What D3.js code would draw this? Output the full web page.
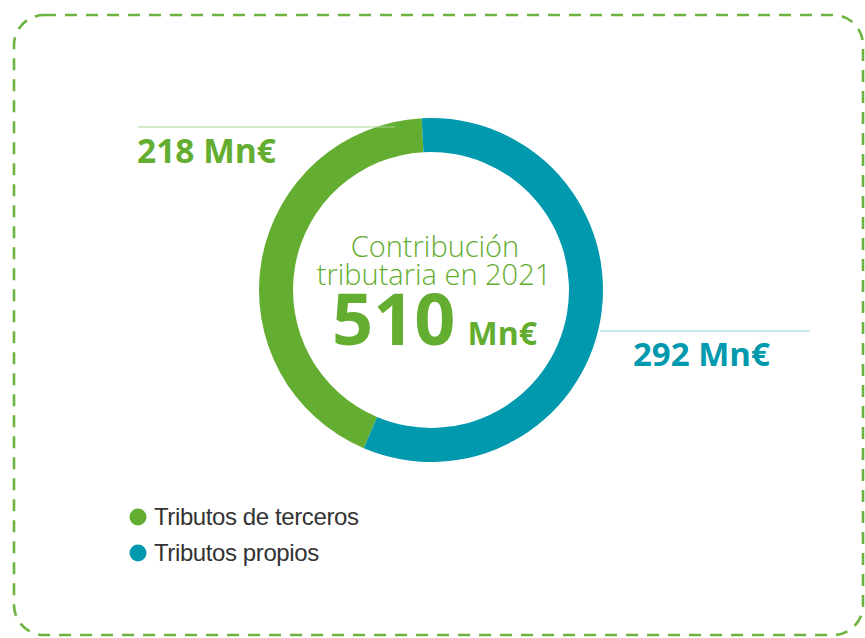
<!DOCTYPE html>
<html>
<head>
<meta charset="utf-8">
<script src="https://cdn.jsdelivr.net/npm/d3@7"></script>
<style>
  html, body { margin: 0; padding: 0; background: #fff; }
  svg { display: block; }
</style>
</head>
<body>
<svg id="chart" width="865" height="638"></svg>
<script>
// Tax contribution 2021, in millions of euros
const categories = ["Tributos de terceros", "Tributos propios"];
const values = [218, 292];
const valueLabels = ["218 Mn€", "292 Mn€"];
const colors = ["#63ad30", "#0099ad"];
const titleLines = ["Contribución", "tributaria en 2021"];
const totalValue = d3.sum(values);

const svg = d3.select("#chart");
const cx = 431, cy = 290;
const outerR = 172, innerR = 138;

// Dashed rounded frame
svg.append("rect")
  .attr("x", 14).attr("y", 15)
  .attr("width", 849).attr("height", 620)
  .attr("rx", 30).attr("ry", 30)
  .attr("fill", "none")
  .attr("stroke", "#6cb33f")
  .attr("stroke-width", 2.6)
  .attr("stroke-dasharray", "12 9");

// Donut: green slice first, clockwise, ending just left of the top
const startDeg = 203;
const pie = d3.pie().sort(null).value(d => d)
  .startAngle(startDeg * Math.PI / 180)
  .endAngle((startDeg + 360) * Math.PI / 180);
const arcs = pie(values);
const arc = d3.arc().innerRadius(innerR).outerRadius(outerR);

const g = svg.append("g").attr("transform", `translate(${cx},${cy})`);
g.selectAll("path.slice")
  .data(arcs)
  .join("path")
  .attr("class", "slice")
  .attr("d", arc)
  .attr("fill", (d, i) => colors[i]);

// Leader lines and value labels
const lineColors = ["#a9d48c", "#8fd0db"];
svg.append("line")
  .attr("x1", 138).attr("x2", 395)
  .attr("y1", 127).attr("y2", 127)
  .attr("stroke", lineColors[0]).attr("stroke-width", 1);
svg.append("line")
  .attr("x1", 600).attr("x2", 810)
  .attr("y1", 331).attr("y2", 331)
  .attr("stroke", lineColors[1]).attr("stroke-width", 1);

const numFont = "'Open Sans', 'DejaVu Sans', sans-serif";
svg.append("text")
  .attr("x", 137).attr("y", 163)
  .attr("font-family", numFont).attr("font-weight", 700)
  .attr("font-size", 33.5).attr("fill", colors[0])
  .text(valueLabels[0]);
svg.append("text")
  .attr("x", 633).attr("y", 366)
  .attr("font-family", numFont).attr("font-weight", 700)
  .attr("font-size", 33).attr("fill", colors[1])
  .text(valueLabels[1]);

// Centre title
const center = svg.append("g").attr("font-family", numFont).attr("fill", colors[0]);
center.append("text")
  .attr("x", cx + 4).attr("y", 257)
  .attr("text-anchor", "middle")
  .attr("font-size", 29).attr("font-weight", 300)
  .text(titleLines[0]);
center.append("text")
  .attr("x", cx + 3).attr("y", 285)
  .attr("text-anchor", "middle")
  .attr("font-size", 29).attr("font-weight", 300)
  .text(titleLines[1]);
const totalText = center.append("text")
  .attr("x", 332).attr("y", 345)
  .attr("font-weight", 700);
totalText.append("tspan").attr("font-size", 72).text(totalValue);
totalText.append("tspan").attr("font-size", 32).attr("dx", 12).text("Mn€");

// Legend
const legend = svg.append("g")
  .attr("font-family", "'Liberation Sans', Arial, sans-serif")
  .attr("font-size", 24).attr("letter-spacing", -0.4).attr("fill", "#333");
const items = legend.selectAll("g")
  .data(categories)
  .join("g")
  .attr("transform", (d, i) => `translate(138, ${517 + i * 36})`);
items.append("circle").attr("r", 8.5).attr("fill", (d, i) => colors[i]);
items.append("text").attr("x", 16).attr("y", 8).text(d => d);
</script>
</body>
</html>
